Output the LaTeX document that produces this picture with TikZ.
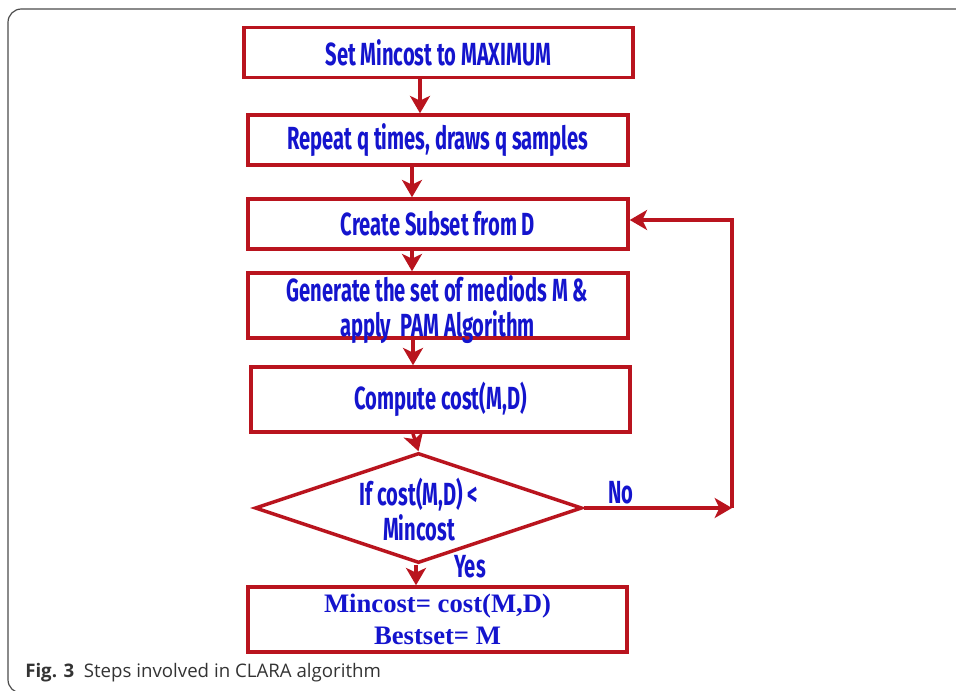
\documentclass[tikz,border=0pt]{standalone}
\usepackage{fontspec}
\usetikzlibrary{arrows.meta,shapes.geometric}
\newfontfamily\stepfont[FakeStretch=0.63]{Fira Sans}
\newfontfamily\capfont{Open Sans}
\setmainfont{Liberation Serif}
\definecolor{flowred}{RGB}{185,20,30}
\definecolor{flowblue}{RGB}{20,20,205}
\definecolor{framegray}{RGB}{75,75,75}
\tikzset{
  stepbox/.style={draw=flowred,line width=2.6pt,rectangle,inner sep=0pt,
    minimum height=37.5pt,text=flowblue,font=\stepfont\bfseries\fontsize{24}{26}\selectfont,align=center},
  arr/.style={draw=flowred,line width=2.6pt,-{Stealth[length=13pt,width=15pt,inset=3.5pt]}},
  lbl/.style={text=flowblue,font=\stepfont\bfseries\fontsize{24}{26}\selectfont,inner sep=0pt}
}

\begin{document}
\begin{tikzpicture}[x=0.75pt,y=-0.75pt]
    \useasboundingbox (0,0) rectangle (956,691);

    % frame round the figure
    \draw[framegray,line width=0.9pt,rounded corners=10pt] (8,9) rectangle (975,693);

    % the steps
    \node[stepbox,minimum width=291.75pt] (setmin) at (438.5,52.5) {Set Mincost to MAXIMUM};
    \node[stepbox,minimum width=285pt] (repeat) at (438,140) {Repeat q times, draws q samples};
    \node[stepbox,minimum width=285pt] (subset) at (438,224) {Create Subset from D};
    \node[stepbox,minimum width=285pt,minimum height=48.75pt] (medoid) at (438,305.5) {};
    \node[lbl,align=center] (medoidtxt) at (437.5,309.5) {Generate the set of mediods M \&\\[0pt]apply\ \ PAM Algorithm};
    \node[stepbox,minimum width=284.25pt,minimum height=48.75pt] (cost) at (440.5,399.5) {Compute cost(M,D)};

    % the test
    \node[diamond,draw=flowred,line width=2.6pt,minimum width=245.25pt,minimum height=82.5pt,inner sep=0pt] (test) at (418.5,508) {};
    \node[lbl,align=center] (testtxt) at (419,509.5) {If cost(M,D) <\\[0pt]Mincost};

    % the result
    \node[stepbox,minimum width=284.25pt,minimum height=48.75pt,
          font=\rmfamily\bfseries\fontsize{20}{24}\selectfont] (best) at (437.5,619.5)
          {Mincost= cost(M,D)\\Bestset= M};

    % arrows down the chart
    \draw[arr] (setmin.south -| 420,0) -- (repeat.north -| 420,0);
    \draw[arr] (repeat.south -| 412,0) -- (subset.north -| 412,0);
    \draw[arr] (subset.south -| 412,0) -- (medoid.north -| 412,0);
    \draw[arr] (medoid.south -| 413,0) -- (cost.north -| 413,0);
    \draw[arr] (cost.south -| 413,0) -- (test.north);
    \draw[arr] (test.south -| 416,0) -- (best.north -| 416,0);

    % the loop back
    \coordinate (noend) at (732,508);
    \coordinate (back) at (732,220);
    \draw[arr] (test.east) -- (noend);
    \draw[arr] (noend) -- (back) -- (subset.east |- back);

    \node[lbl] (no) at (621,493) {No};
    \node[lbl] (yes) at (470,567) {Yes};

    % caption
    \node[anchor=base west,inner sep=0pt,text=black!80,font=\capfont\fontsize{14}{16}\selectfont] (caption) at (25,677)
        {\textbf{Fig. 3}\ \ Steps involved in CLARA algorithm};
\end{tikzpicture}
\end{document}
